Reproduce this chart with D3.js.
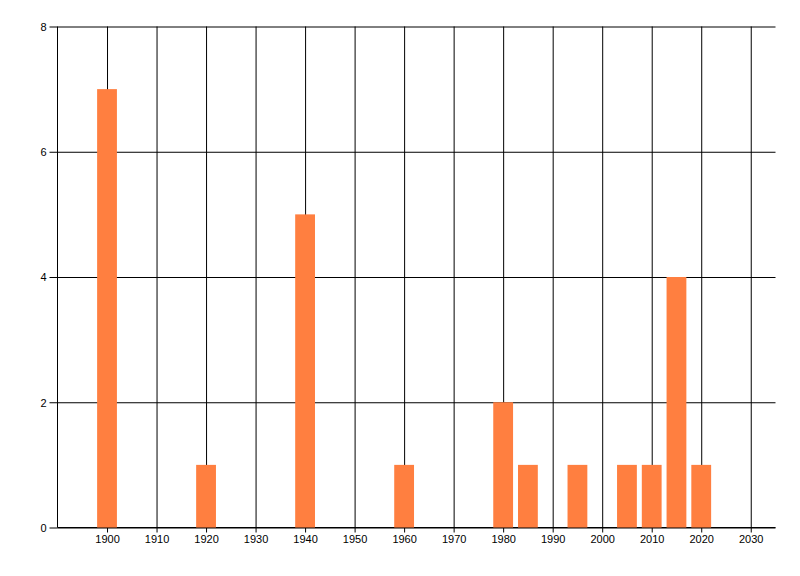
<!DOCTYPE html>
<html>
<head>
<meta charset="utf-8">
<script src="https://cdn.jsdelivr.net/npm/d3@7"></script>
<style>
  body { margin: 0; background: #fff; }
  svg text { font-family: "Liberation Sans", Arial, sans-serif; font-size: 11px; fill: #000; }
</style>
</head>
<body>
<svg id="chart" width="800" height="576"></svg>
<script>
// values
const years = [1900, 1920, 1940, 1960, 1980, 1985, 1995, 2005, 2010, 2015, 2020];
const counts = [7, 1, 5, 1, 2, 1, 1, 1, 1, 4, 1];
const xTicks = [1900, 1910, 1920, 1930, 1940, 1950, 1960, 1970, 1980, 1990, 2000, 2010, 2020, 2030];
const yTicks = [0, 2, 4, 6, 8];

const data = years.map((y, i) => ({year: y, count: counts[i]}));

const plotLeft = 57.5, plotRight = 775.5, plotTop = 26.5, plotBottom = 527.5;
const barYears = 4;

const svg = d3.select("#chart");

const x = d3.scaleLinear().domain([1890, 2035]).range([plotLeft, plotRight]);
const y = d3.scaleLinear().domain([0, 8]).range([plotBottom, plotTop]);

// horizontal grid + y ticks
svg.append("g")
  .attr("transform", "translate(" + plotLeft + ",0)")
  .call(d3.axisLeft(y).tickValues(yTicks).tickSize(8).tickFormat(d3.format("d")))
  .call(g => g.select(".domain").remove())
  .call(g => g.selectAll(".tick line").attr("stroke", "#000"))
  .call(g => g.selectAll(".tick text").attr("x", -11).attr("dy", "0.35em"))
  .call(g => g.selectAll(".tick").append("line")
    .attr("x1", 0).attr("x2", plotRight - plotLeft).attr("stroke", "#000"));

// vertical grid + x ticks
svg.append("g")
  .attr("transform", "translate(0," + plotBottom + ")")
  .call(d3.axisBottom(x).tickValues(xTicks).tickSize(5).tickFormat(d3.format("d")))
  .call(g => g.select(".domain").remove())
  .call(g => g.selectAll(".tick line").attr("stroke", "#000"))
  .call(g => g.selectAll(".tick text").attr("y", 8))
  .call(g => g.selectAll(".tick").append("line")
    .attr("y1", 0).attr("y2", plotTop - plotBottom).attr("stroke", "#000"));

// axis lines
svg.append("line")
  .attr("x1", plotLeft).attr("x2", plotLeft).attr("y1", plotTop).attr("y2", plotBottom)
  .attr("stroke", "#000");
svg.append("line")
  .attr("x1", plotLeft).attr("x2", plotRight).attr("y1", plotBottom).attr("y2", plotBottom)
  .attr("stroke", "#000");

// bars
svg.selectAll(".bar")
  .data(data)
  .enter().append("rect")
    .attr("class", "bar")
    .attr("fill", "#FF7F40")
    .attr("x", d => x(d.year - barYears / 2))
    .attr("width", d => x(d.year + barYears / 2) - x(d.year - barYears / 2))
    .attr("y", d => y(d.count))
    .attr("height", d => y(0) - y(d.count));
</script>
</body>
</html>
